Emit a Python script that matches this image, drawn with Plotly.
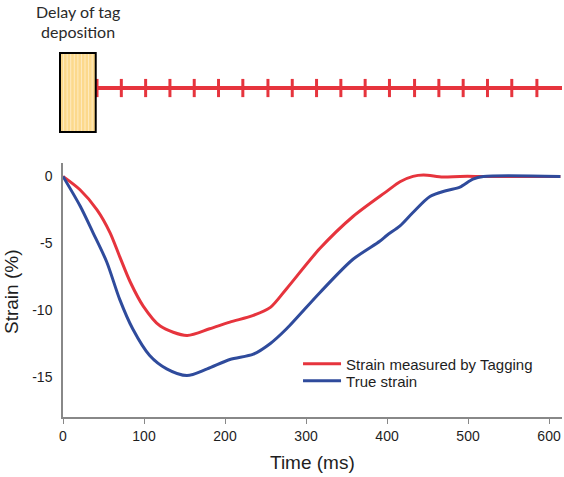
import plotly.graph_objects as go

# ---- data ----
time_tag = [0, 21, 42, 58, 70, 83, 99, 120, 153, 181, 206, 235, 256, 276, 317, 358,
            400, 416, 432, 445, 469, 490, 520, 614]
strain_tag = [0, -1.0, -2.5, -4.2, -6.0, -7.9, -9.7, -11.2, -11.9, -11.4, -10.9, -10.4,
              -9.8, -8.4, -5.4, -3.0, -1.1, -0.4, 0, 0.1, -0.05, 0, 0, 0]

time_true = [0, 21, 37, 54, 70, 86, 107, 128, 153, 178, 206, 235, 256, 276, 317, 358,
             391, 400, 416, 432, 453, 474, 490, 506, 519, 614]
strain_true = [0, -2.2, -4.2, -6.4, -9.2, -11.4, -13.4, -14.4, -14.9, -14.4, -13.7, -13.3,
               -12.5, -11.4, -8.7, -6.2, -4.85, -4.4, -3.7, -2.7, -1.5, -1.05, -0.8, -0.2, 0, 0]

tag_times = [42, 72, 102, 132, 162, 192, 222, 253, 283, 313, 343, 373, 403, 434, 464,
             494, 524, 554, 585]
delay_start, delay_end = -3.7, 40.4   # ms, delay of tag deposition
line_end = 616

x_ticks = [0, 100, 200, 300, 400, 500, 600]
y_ticks = [0, -5, -10, -15]
y_ticklabels = ["0", "-5", "-10", "-15"]

RED = "#E6343D"
BLUE = "#2F4B9C"
TXT = "#1e1e1e"
XMAX = 616
FONT = "Liberation Sans, Arial, sans-serif"

fig = go.Figure()

fig.add_trace(go.Scatter(x=time_tag, y=strain_tag, mode="lines", name="Strain measured by Tagging",
                         line=dict(color=RED, width=3, shape="spline", smoothing=0.8),
                         legend="legend"))
fig.add_trace(go.Scatter(x=time_true, y=strain_true, mode="lines", name="True strain",
                         line=dict(color=BLUE, width=3, shape="spline", smoothing=0.8),
                         legend="legend2"))

# top panel: tag line
TAG_Y = 88
fig.add_trace(go.Scatter(x=[delay_end, line_end], y=[TAG_Y, TAG_Y], mode="lines",
                         line=dict(color=RED, width=4), xaxis="x2", yaxis="y2",
                         showlegend=False, hoverinfo="skip"))
fig.add_trace(go.Scatter(x=tag_times, y=[TAG_Y] * len(tag_times), mode="markers",
                         marker=dict(symbol="line-ns", size=13, line=dict(color=RED, width=3)),
                         xaxis="x2", yaxis="y2", showlegend=False, hoverinfo="skip"))

shapes = []
bx0, bx1 = delay_start / XMAX, delay_end / XMAX
shapes.append(dict(type="rect", xref="paper", yref="y2", x0=bx0, x1=bx1, y0=53, y1=132,
                   fillcolor="#FCD98C", line=dict(width=0), layer="above"))
n_str = 10
for i in range(1, n_str):
    xs = bx0 + (bx1 - bx0) * i / n_str
    shapes.append(dict(type="line", xref="paper", yref="y2", x0=xs, x1=xs, y0=53, y1=132,
                       line=dict(color="#FEEBC2", width=1), layer="above"))
shapes.append(dict(type="rect", xref="paper", yref="y2", x0=bx0, x1=bx1, y0=53, y1=132,
                   fillcolor="rgba(0,0,0,0)", line=dict(color="black", width=2), layer="above"))

annotations = [
    dict(text="Delay of tag", x=18.5, y=11, xref="x2", yref="y2", showarrow=False,
         font=dict(family="Lato", size=16, color="#2a2a2a")),
    dict(text="deposition", x=18.5, y=31, xref="x2", yref="y2", showarrow=False,
         font=dict(family="Lato", size=16, color="#2a2a2a")),
    dict(text="Strain (%)", x=-0.102, y=0.30, xref="paper", yref="paper", showarrow=False,
         xanchor="center", yanchor="middle",
         textangle=-90, font=dict(family=FONT, size=19, color=TXT)),
    dict(text="Time (ms)", x=0.499, y=-0.108, xref="paper", yref="paper", showarrow=False,
         xanchor="center", yanchor="middle",
         font=dict(family=FONT, size=19, color=TXT)),
]

leg_common = dict(xanchor="left", yanchor="middle", bgcolor="rgba(0,0,0,0)",
                  font=dict(family=FONT, size=15, color=TXT), itemwidth=38)

fig.update_layout(
    width=564, height=477,
    margin=dict(l=63, r=2, t=0, b=60),
    paper_bgcolor="white", plot_bgcolor="white",
    font=dict(family=FONT, color=TXT),
    xaxis=dict(range=[0, XMAX], tickvals=x_ticks, ticks="outside", ticklen=5, tickwidth=1,
               tickcolor="#888888", showline=True, linecolor="#888888", linewidth=1.5,
               showgrid=False, zeroline=False, tickfont=dict(family=FONT, size=14, color=TXT),
               anchor="y", fixedrange=True),
    yaxis=dict(domain=[0, 0.609], range=[-18, 1], tickvals=y_ticks, ticktext=y_ticklabels,
               ticks="", showline=True, linecolor="#888888", linewidth=1.5, showgrid=False,
               zeroline=False, tickfont=dict(family=FONT, size=14, color=TXT), ticklabelstandoff=6),
    xaxis2=dict(matches="x", anchor="y2", visible=False),
    yaxis2=dict(domain=[0.621, 1], range=[158, 0], visible=False),
    legend=dict(x=0.471, y=0.127, **leg_common),
    legend2=dict(x=0.471, y=0.0863, **leg_common),
    shapes=shapes, annotations=annotations,
)

fig.write_html("out.html", config={"displayModeBar": False},
               post_script="document.body.style.margin='0';document.body.style.padding='0';")
